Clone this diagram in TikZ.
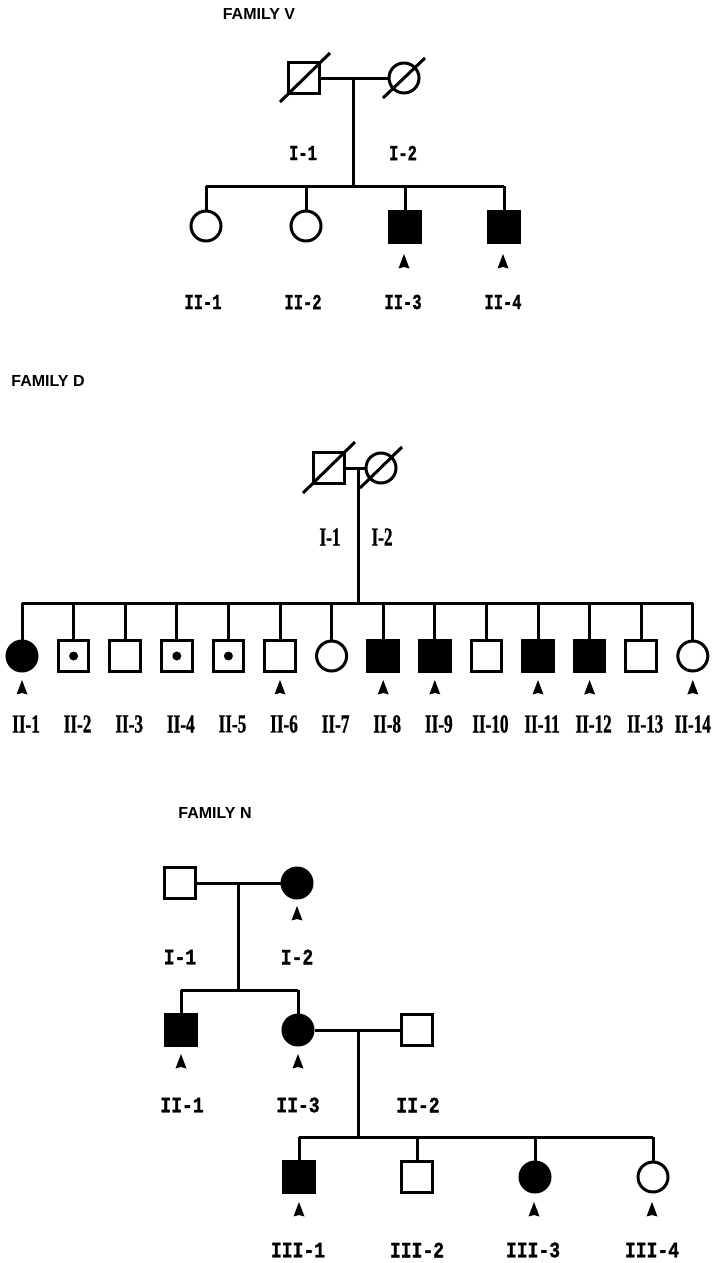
\documentclass[tikz,border=0pt]{standalone}
\usepackage{fontspec}
\newfontfamily\headfont{Liberation Sans}
\newfontfamily\labV[FakeStretch=0.72,FakeBold=1.2]{Liberation Mono}
\newfontfamily\labN[FakeStretch=0.82,FakeBold=1.2]{Liberation Mono}
\newfontfamily\labD[FakeStretch=0.66,FakeBold=0.8]{Liberation Serif}
\tikzset{
  ln/.style={line width=3pt},
  sq/.style={draw, line width=3pt, rectangle, minimum size=30.5pt, inner sep=0pt},
  ci/.style={draw, line width=3pt, circle, minimum size=30pt, inner sep=0pt},
  aff/.style={fill=black},
  fsq/.style={sq, aff},
  fci/.style={ci, aff},
  dotsq/.style={sq, path picture={\fill (path picture bounding box.center) circle (4.5pt);}},
  head/.style={inner sep=0pt, font=\headfont\bfseries\fontsize{16}{16}\selectfont},
  lv/.style={inner sep=0pt, font=\labV\bfseries\fontsize{21.5}{21.5}\selectfont},
  lnn/.style={inner sep=0pt, font=\labN\bfseries\fontsize{22}{22}\selectfont},
  ld/.style={inner sep=0pt, font=\labD\bfseries\fontsize{26}{26}\selectfont},
  proband/.pic={\fill (0,-1) -- (-5.5,13.5) -- (0,12) -- (5.5,13.5) -- cycle;}
}
\begin{document}
\begin{tikzpicture}[x=1pt,y=-1pt]
\useasboundingbox[fill=white] (0,0) rectangle (719,1263);

% ================= FAMILY V =================
\node[head] (hv) at (259,14) {FAMILY V};
\node[sq] (v11) at (304,78) {};
\node[ci] (v12) at (404,78) {};
\draw[ln] (280,102) -- (330,53);
\draw[ln] (383,98) -- (425,58);
\draw[ln] (v11.east) -- (v12.west);
\coordinate (vm) at (353,78);
\coordinate (vs) at (353,186);
\draw[ln] (vm) -- (vs);
\node[lv] (lv11) at (303,153) {I-1};
\node[lv] (lv12) at (403,153) {I-2};
\node[ci] (v21) at (206,226) {};
\node[ci] (v22) at (306,226) {};
\node[fsq] (v23) at (405,227) {};
\node[fsq] (v24) at (504,227) {};
\draw[ln] (v21.north |- vs) -- (v24.north |- vs);
\foreach \n in {v21,v22,v23,v24} \draw[ln] (\n.north) -- (\n.north |- vs);
\pic at (404,255) {proband};
\pic at (503,255) {proband};
\node[lv] (lv21) at (203,302) {II-1};
\node[lv] (lv22) at (303,302) {II-2};
\node[lv] (lv23) at (403,302) {II-3};
\node[lv] (lv24) at (503,302) {II-4};

% ================= FAMILY D =================
\node[head] (hd) at (48,381) {FAMILY D};
\node[sq] (d11) at (329,468) {};
\node[ci] (d12) at (381,468) {};
\draw[ln] (303,493) -- (355,442);
\draw[ln] (360,488) -- (402,447);
\draw[ln] (d11.east) -- (d12.west);
\coordinate (dm) at (358,468);
\coordinate (ds) at (358,603);
\draw[ln] (dm) -- (ds);
\node[ld] (ld11) at (330,537) {I-1};
\node[ld] (ld12) at (382,537) {I-2};
\foreach \i/\st in {1/fci,2/dotsq,3/sq,4/dotsq,5/dotsq,6/sq,7/ci,8/fsq,9/fsq,10/sq,11/fsq,12/fsq,13/sq,14/ci} {
  \pgfmathsetmacro{\xx}{22+(\i-1)*51.6}
  \pgfmathsetmacro{\lx}{\xx+4*(\i<14)}
  \node[\st] (d2\i) at (\xx,656) {};
  \draw[ln] (d2\i.north) -- (d2\i.north |- ds);
  \node[ld] (ld2\i) at (\lx,724) {II-\i};
}
\draw[ln] (d21.north |- ds) -- (d214.north |- ds);
\foreach \i in {1,6,8,9,11,12,14} {
  \pgfmathsetmacro{\xx}{22+(\i-1)*51.6}
  \pic at (\xx,681) {proband};
}

% ================= FAMILY N =================
\node[head] (hn) at (215,813) {FAMILY N};
\node[sq] (n11) at (180,883) {};
\node[fci] (n12) at (297,883) {};
\draw[ln] (n11.east) -- (n12.west);
\coordinate (nm1) at (238,883);
\coordinate (ns1) at (238,990);
\draw[ln] (nm1) -- (ns1);
\pic at (297,907) {proband};
\node[lnn] (ln11) at (180,957) {I-1};
\node[lnn] (ln12) at (297,957) {I-2};
\node[fsq] (n21) at (181,1030) {};
\node[fci] (n23) at (298,1030) {};
\node[sq] (n22) at (417,1030) {};
\draw[ln] (n21.north |- ns1) -- (n23.north |- ns1);
\foreach \n in {n21,n23} \draw[ln] (\n.north) -- (\n.north |- ns1);
\draw[ln] (n23.east) -- (n22.west);
\coordinate (nm2) at (358,1030);
\coordinate (ns2) at (358,1137);
\draw[ln] (nm2) -- (ns2);
\pic at (181,1055) {proband};
\pic at (298,1055) {proband};
\node[lnn] (ln21) at (182,1105) {II-1};
\node[lnn] (ln23) at (298,1105) {II-3};
\node[lnn] (ln22) at (418,1105) {II-2};
\node[fsq] (n31) at (299,1177) {};
\node[sq] (n32) at (417,1177) {};
\node[fci] (n33) at (535,1177) {};
\node[ci] (n34) at (653,1177) {};
\draw[ln] (n31.north |- ns2) -- (n34.north |- ns2);
\foreach \n in {n31,n32,n33,n34} \draw[ln] (\n.north) -- (\n.north |- ns2);
\pic at (299,1203) {proband};
\pic at (534,1203) {proband};
\pic at (652,1203) {proband};
\node[lnn] (ln31) at (298,1250) {III-1};
\node[lnn] (ln32) at (417,1250) {III-2};
\node[lnn] (ln33) at (533,1250) {III-3};
\node[lnn] (ln34) at (652,1250) {III-4};
\end{tikzpicture}
\end{document}
